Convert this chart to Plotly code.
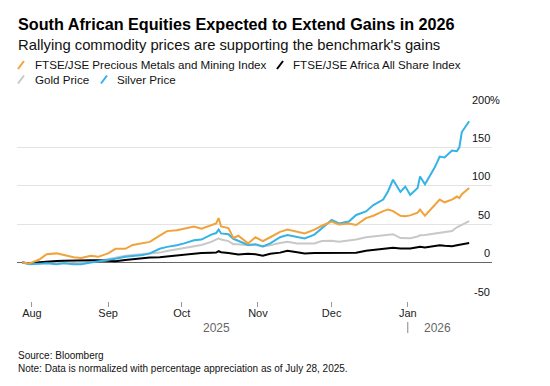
import plotly.graph_objects as go

dates = [
    "2025-07-28", "2025-07-31",
    "2025-08-04", "2025-08-07", "2025-08-11", "2025-08-14", "2025-08-18", "2025-08-21", "2025-08-25", "2025-08-28",
    "2025-09-01", "2025-09-04", "2025-09-08", "2025-09-11", "2025-09-15", "2025-09-18", "2025-09-22", "2025-09-25", "2025-09-29",
    "2025-10-02", "2025-10-06", "2025-10-09", "2025-10-13", "2025-10-15", "2025-10-16", "2025-10-17", "2025-10-20", "2025-10-22", "2025-10-24", "2025-10-28", "2025-10-31",
    "2025-11-03", "2025-11-06", "2025-11-10", "2025-11-13", "2025-11-17", "2025-11-20", "2025-11-24", "2025-11-27",
    "2025-12-01", "2025-12-04", "2025-12-08", "2025-12-11", "2025-12-15", "2025-12-18", "2025-12-22", "2025-12-24", "2025-12-26", "2025-12-29", "2025-12-31",
    "2026-01-02", "2026-01-05", "2026-01-06", "2026-01-08", "2026-01-12", "2026-01-14", "2026-01-16", "2026-01-19", "2026-01-21", "2026-01-22", "2026-01-23", "2026-01-26",
]

precious_metals = [
    0, -1,
    4, 11, 12, 10, 7, 6, 9, 7.5,
    12, 18, 18, 23, 25, 27, 35, 41, 42,
    44.5, 47, 44, 48.5, 51, 58, 47, 45, 32, 35, 25, 33,
    28, 33, 40, 43, 40, 38, 43, 48,
    53.5, 49.5, 51, 49, 58, 61, 67, 69, 67, 61, 60.5,
    61.5, 65, 69, 61, 76, 82, 78.5, 82, 86, 84, 89, 97,
]

all_share = [
    0, -1,
    0.5, 1.5, 2, 2.5, 3, 3, 3, 3,
    2.5, 1.7, 3.5, 4.5, 5.5, 6.5, 7, 8, 9.5,
    10.5, 12, 12.6, 12.8, 13, 14.8, 13.5, 12.6, 11.5, 10.5, 11.5, 11,
    9, 11.5, 13, 15.5, 13.6, 12, 12.5, 12.6,
    12.6, 13, 13.6, 12.8, 15.3, 16.5, 17.5, 19, 19.3, 18.5, 18.4,
    18.4, 20, 20.5, 19.6, 21.5, 22.7, 22, 21.4, 22.5, 23, 23.5, 25.5,
]

gold = [
    0, -1,
    -1, 0, 0, 0, -1, -0.5, 1, 2,
    5, 6.5, 9, 10, 11, 12, 13, 15, 17,
    19, 21, 23, 27, 29.5, 31.5, 30, 28, 24, 24, 22.5, 23,
    21, 22.5, 25.5, 27, 25, 25, 25, 28,
    28.5, 27, 28.5, 30, 33, 34, 35, 36.5, 37, 32, 31.6,
    31.6, 34, 35.5, 36, 38, 38.5, 39, 41, 46, 47, 49, 54,
]

silver = [
    0, -2,
    -1.5, -1, -2, -1, -2, -2, 0, 1.5,
    3, 5, 7.5, 8.5, 10, 12, 18, 20.5, 22.5,
    25, 29, 30, 36.5, 38.5, 43, 38, 37, 31, 28, 23, 24,
    21, 25, 33, 36, 33.5, 31.5, 36.5, 45,
    55.5, 51, 53.5, 62, 66.6, 75, 82, 93, 108, 92, 99,
    88, 97, 112, 102, 124, 138, 137, 146, 145, 150, 170, 184,
]

series_names = [
    "FTSE/JSE Precious Metals and Mining Index",
    "FTSE/JSE Africa All Share Index",
    "Gold Price",
    "Silver Price",
]
series_colors = ["#f2a23a", "#000000", "#c8c8c8", "#35b2e6"]

month_ticks = ["2025-08-01", "2025-09-01", "2025-10-01", "2025-11-01", "2025-12-01", "2026-01-01"]
month_labels = ["Aug", "Sep", "Oct", "Nov", "Dec", "Jan"]
y_ticks = [-50, 0, 50, 100, 150, 200]
year_labels = ["2025", "2026"]
year_label_dates = ["2025-10-15", "2026-01-13"]
year_break = "2026-01-01"

title = "South African Equities Expected to Extend Gains in 2026"
subtitle = "Rallying commodity prices are supporting the benchmark's gains"
source = "Source: Bloomberg"
note = "Note: Data is normalized with percentage appreciation as of July 28, 2025."

FONT = "Liberation Sans, Arial, sans-serif"

# page offset observed in the rendered page (body margin)
OFF = 8
# target plot-area geometry in screen pixels
SX0, SX1, SY0, SY1 = 17, 492, 109, 301
W, H = 550, 386
L = SX0 - OFF
T = SY0 - OFF
R = W - (SX1 - OFF)
B = H - (SY1 - OFF)
PW = SX1 - SX0
PH = SY1 - SY0


def px(x):
    return (x - SX0) / PW


def py(y):
    return (SY1 - y) / PH


fig = go.Figure()
series_values = [precious_metals, all_share, gold, silver]
draw_order = [2, 1, 3, 0]
for i in draw_order:
    fig.add_trace(go.Scatter(
        x=dates, y=series_values[i], mode="lines", name=series_names[i],
        line=dict(color=series_colors[i], width=2), showlegend=False,
    ))

annotations = []
shapes = []

annotations.append(dict(text="<b>" + title + "</b>", x=px(16), y=py(24), xref="paper", yref="paper",
                        xanchor="left", yanchor="middle", showarrow=False,
                        font=dict(family=FONT, size=16.2, color="#000000")))
annotations.append(dict(text=subtitle, x=px(16), y=py(44.5), xref="paper", yref="paper",
                        xanchor="left", yanchor="middle", showarrow=False,
                        font=dict(family=FONT, size=14.8, color="#111111")))

# custom legend: slash icons + labels  (icon x, row y, text x)
legend_pos = [(17, 65, 33), (276, 65, 291), (17, 79.5, 33), (100, 79.5, 115)]
for (lx, ly, tx), name, col in zip(legend_pos, series_names, series_colors):
    shapes.append(dict(type="line", xref="paper", yref="paper",
                       x0=px(lx + 1), y0=py(ly + 4), x1=px(lx + 7), y1=py(ly - 4),
                       line=dict(color=col, width=2)))
    annotations.append(dict(text=name, x=px(tx), y=py(ly), xref="paper", yref="paper",
                            xanchor="left", yanchor="middle", showarrow=False,
                            font=dict(family=FONT, size=11.6, color="#111111")))

# y tick labels above gridlines at right end
for v in y_ticks:
    annotations.append(dict(text=str(v), x=1, y=v, xref="paper", yref="y",
                            xanchor="right", yanchor="middle", yshift=9.5, showarrow=False,
                            font=dict(family=FONT, size=11, color="#111111")))
annotations.append(dict(text="%", x=1, y=y_ticks[-1], xref="paper", yref="y",
                        xanchor="left", yanchor="middle", yshift=9.5, xshift=-4, showarrow=False,
                        font=dict(family=FONT, size=11, color="#111111")))

# year labels
for lbl, d in zip(year_labels, year_label_dates):
    annotations.append(dict(text=lbl, x=d, y=py(327.5), xref="x", yref="paper",
                            xanchor="center", yanchor="middle", showarrow=False,
                            font=dict(family=FONT, size=12, color="#666666")))
shapes.append(dict(type="line", xref="x", yref="paper", x0=year_break, x1=year_break,
                   y0=py(322), y1=py(333), line=dict(color="#888888", width=1)))

annotations.append(dict(text=source, x=px(16), y=py(355.5), xref="paper", yref="paper",
                        xanchor="left", yanchor="middle", showarrow=False,
                        font=dict(family=FONT, size=10, color="#111111")))
annotations.append(dict(text=note, x=px(16), y=py(368.5), xref="paper", yref="paper",
                        xanchor="left", yanchor="middle", showarrow=False,
                        font=dict(family=FONT, size=10, color="#111111")))

fig.update_layout(
    width=W, height=H,
    margin=dict(l=L, r=R, t=T, b=B, pad=0),
    paper_bgcolor="white", plot_bgcolor="white",
    annotations=annotations, shapes=shapes,
    showlegend=False,
)
fig.update_xaxes(
    range=["2025-07-25 22:00", "2026-02-04 07:00"],
    tickvals=month_ticks, ticktext=month_labels,
    ticks="outside", ticklen=5, tickcolor="#999999", tickwidth=1,
    ticklabelstandoff=-3,
    showgrid=False, zeroline=False, showline=False,
    tickfont=dict(family=FONT, size=11, color="#222222"),
)
fig.update_yaxes(
    range=[-50, 200], tickvals=y_ticks, showticklabels=False,
    showgrid=True, gridcolor="#e3e3e3", gridwidth=1,
    zeroline=True, zerolinecolor="#666666", zerolinewidth=1,
    showline=False,
)

fig.write_html("out.html")
